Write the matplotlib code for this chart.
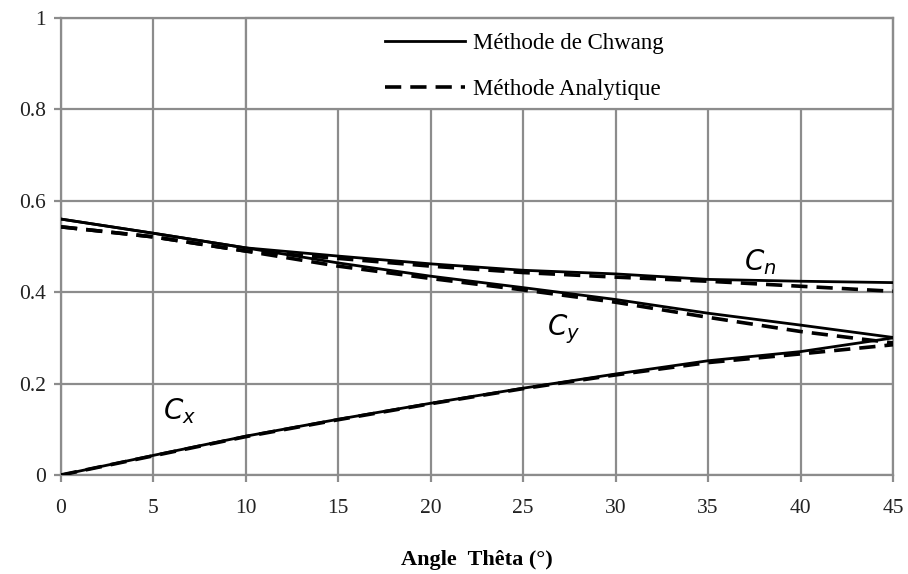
import matplotlib
matplotlib.use("Agg")
import matplotlib.pyplot as plt
from matplotlib.patches import Rectangle

plt.rcParams.update({"font.family": "Liberation Serif", "mathtext.fontset": "dejavusans"})

GRID = "#8c8c8c"

# angle theta (deg)
theta = [0, 5, 10, 15, 20, 25, 30, 35, 40, 45]

# Chwang method (solid)
cn_chwang = [0.560, 0.529, 0.497, 0.479, 0.462, 0.448, 0.440, 0.428, 0.424, 0.421]
cy_chwang = [0.560, 0.529, 0.497, 0.464, 0.435, 0.410, 0.384, 0.354, 0.328, 0.301]
cx_chwang = [0.000, 0.043, 0.085, 0.122, 0.157, 0.190, 0.221, 0.250, 0.270, 0.300]

# analytic method (dashed)
cn_analyt = [0.543, 0.521, 0.490, 0.474, 0.457, 0.443, 0.433, 0.424, 0.413, 0.402]
cy_analyt = [0.543, 0.521, 0.490, 0.457, 0.430, 0.405, 0.378, 0.345, 0.314, 0.289]
cx_analyt = [0.000, 0.042, 0.084, 0.121, 0.156, 0.189, 0.219, 0.246, 0.265, 0.285]

fig = plt.figure(figsize=(9.08, 5.74), dpi=100)
ax = fig.add_axes([61 / 908, 1 - 475 / 574, (893 - 61) / 908, (475 - 18) / 574])
ax.set_xlim(0, 45)
ax.set_ylim(0, 1)
ax.set_xticks(range(0, 50, 5))
ax.set_yticks([0, 0.2, 0.4, 0.6, 0.8, 1])
ax.set_yticklabels(["0", "0.2", "0.4", "0.6", "0.8", "1"])
ax.grid(True, color=GRID, lw=1.6, zorder=0)
for s in ax.spines.values():
    s.set_color(GRID)
    s.set_linewidth(1.6)
ax.tick_params(axis="y", length=5, width=1.6, color=GRID, labelsize=15.5, pad=6, labelcolor="#222222")
ax.tick_params(axis="x", length=5, width=1.6, color=GRID, labelsize=15.5, pad=12, labelcolor="#222222")

lw = 2.0
dash = (0, (4.5, 2.5))
l1, = ax.plot(theta, cn_chwang, color="black", lw=lw, zorder=3)
ax.plot(theta, cy_chwang, color="black", lw=lw, zorder=3)
ax.plot(theta, cx_chwang, color="black", lw=lw, zorder=3)
l2, = ax.plot(theta, cn_analyt, color="black", lw=lw + 0.6, ls=dash, zorder=3)
ax.plot(theta, cy_analyt, color="black", lw=lw + 0.6, ls=dash, zorder=3)
ax.plot(theta, cx_analyt, color="black", lw=lw + 0.6, ls=dash, zorder=3)

# legend panel covering the grid
ax.add_patch(Rectangle((10, 0.8), 35, 0.2, facecolor="white", edgecolor=GRID,
                       lw=1.6, zorder=2, clip_on=False))
ax.legend([l1, l2], ["Méthode de Chwang", "Méthode Analytique"], loc="center left",
          bbox_to_anchor=(0.389, 0.894), frameon=False, fontsize=16.5, handlelength=3.5,
          handletextpad=0.35, labelspacing=1.08, borderpad=0, borderaxespad=0)

ax.text(37.8, 0.465, "$C_n$", fontsize=20, ha="center", va="center")
ax.text(27.2, 0.32, "$C_y$", fontsize=20, ha="center", va="center")
ax.text(6.4, 0.14, "$C_x$", fontsize=20, ha="center", va="center")

ax.set_xlabel("Angle  Thêta (°)", fontsize=16, fontweight="bold", labelpad=23)

fig.savefig("out.png", dpi=100)
